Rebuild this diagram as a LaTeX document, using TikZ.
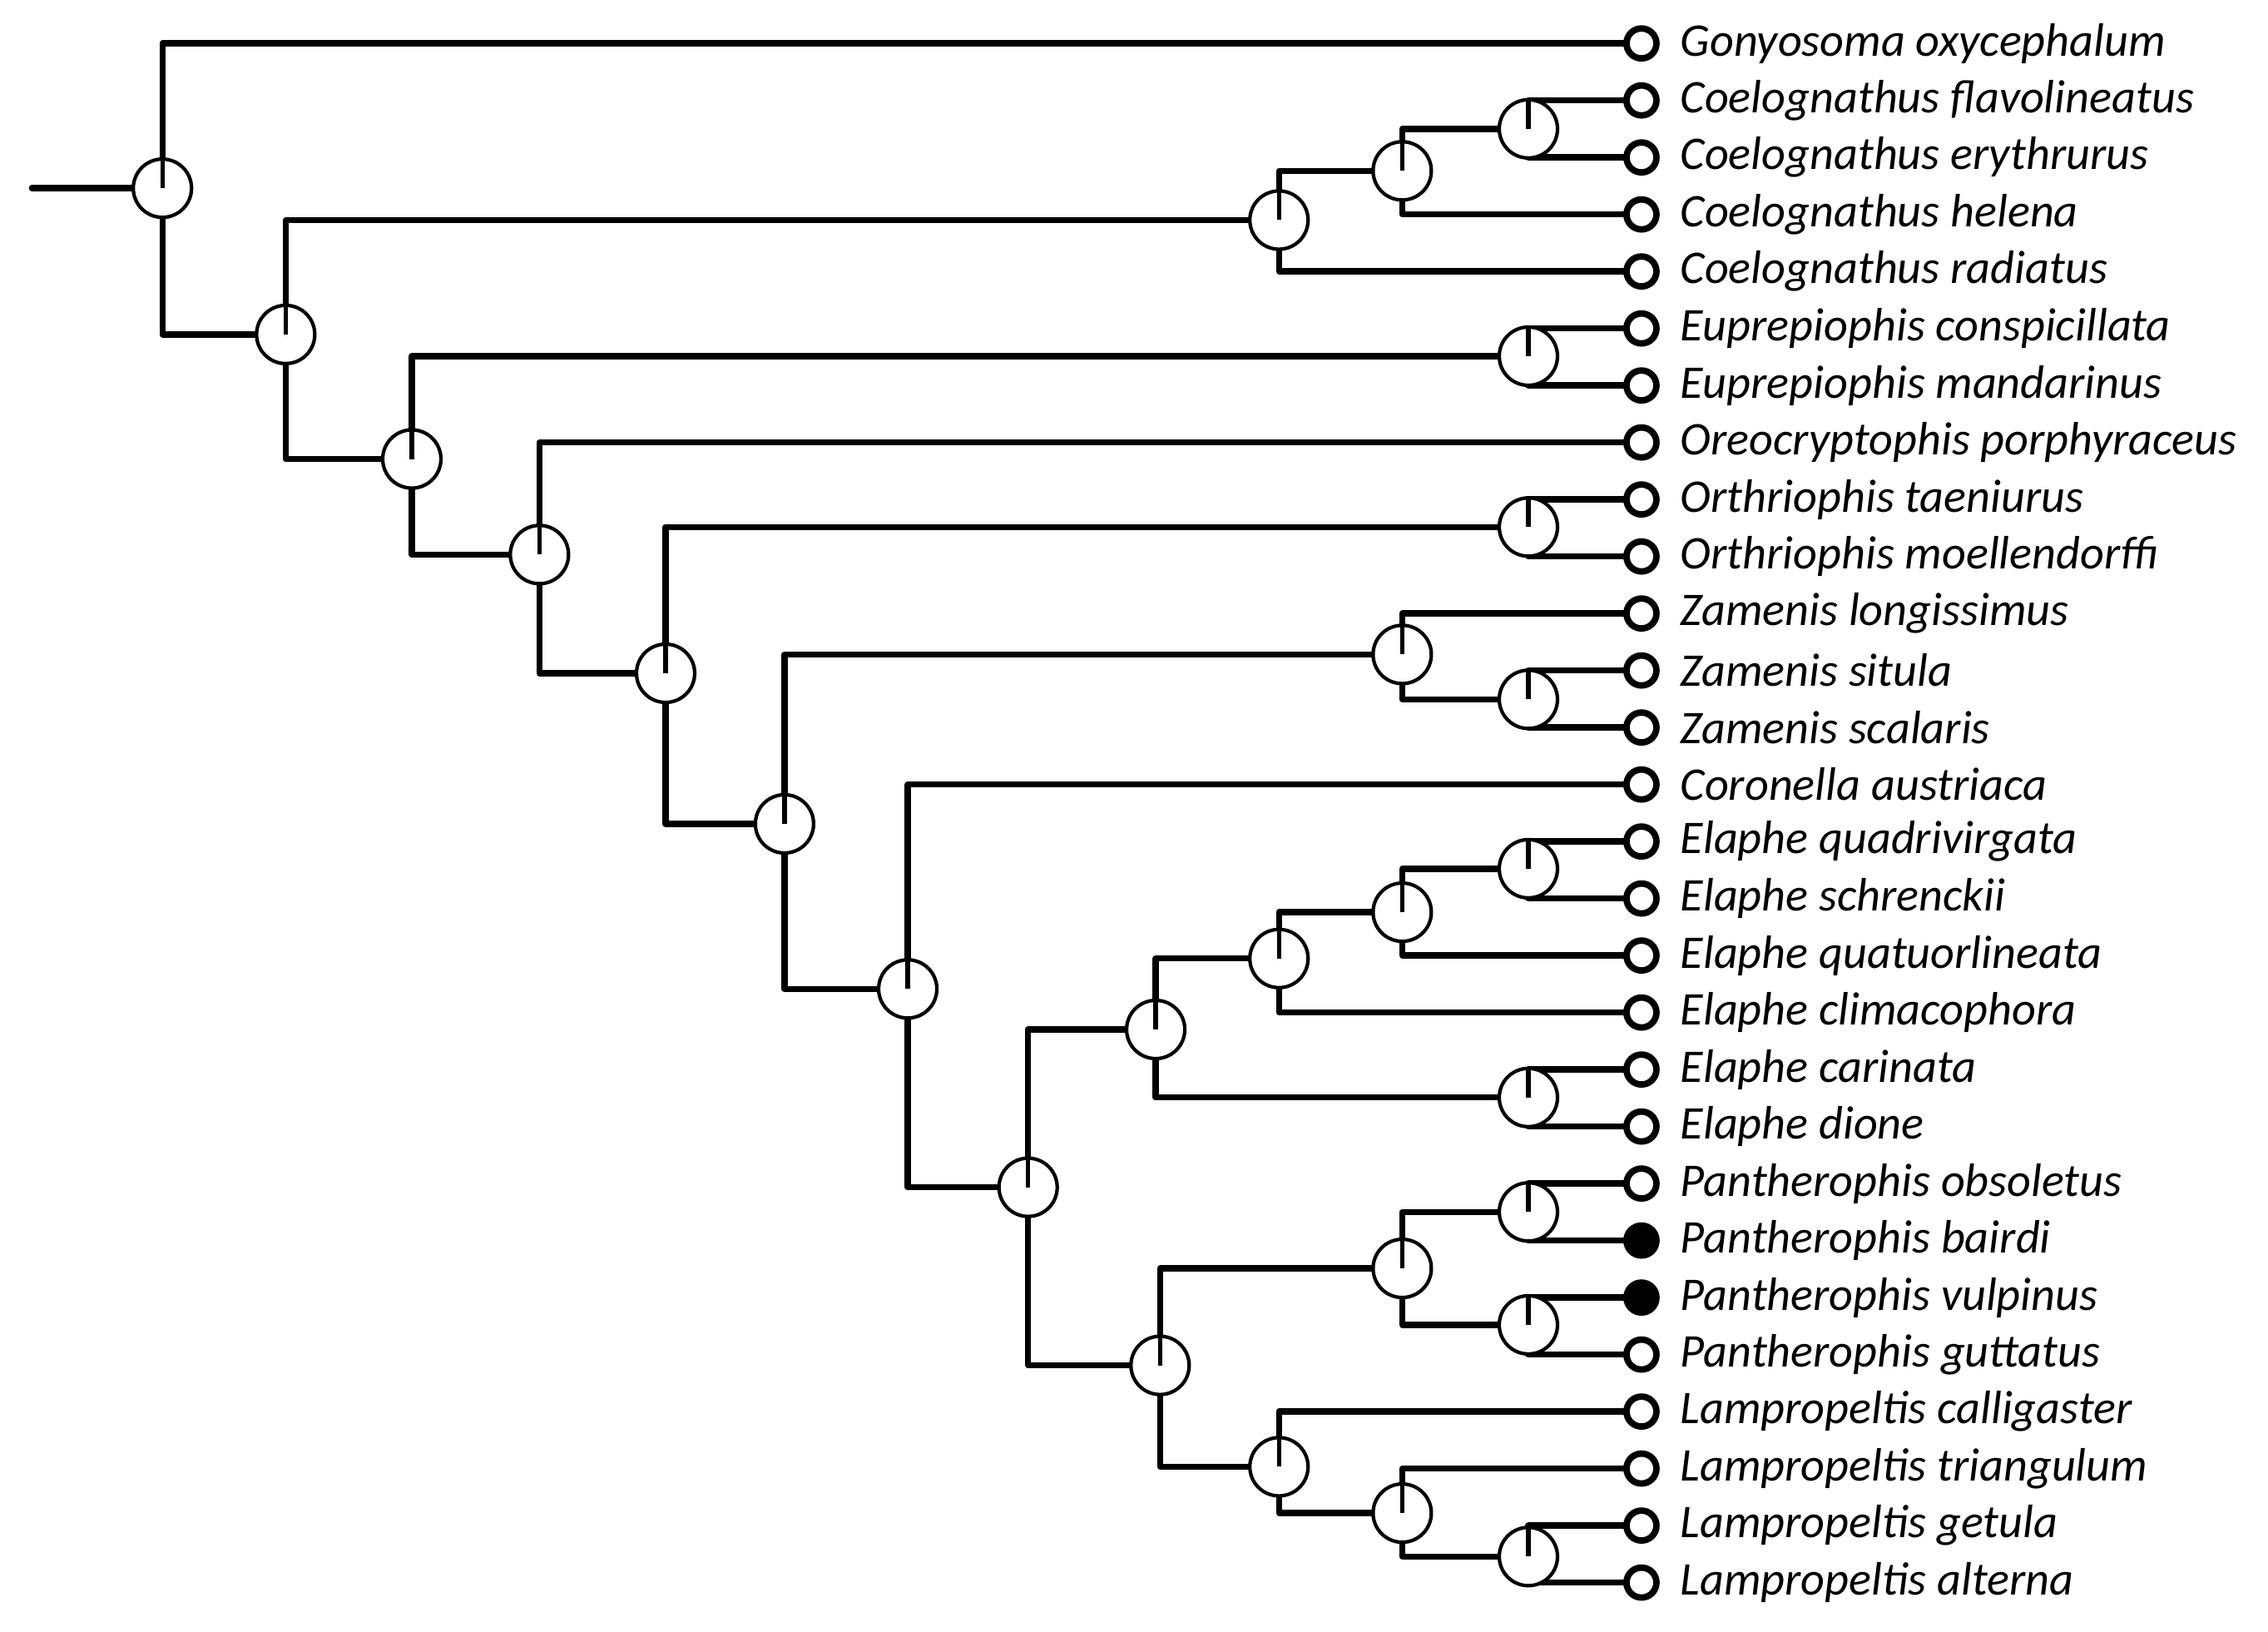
\documentclass[tikz,border=0pt]{standalone}
\usepackage{fontspec}
\setmainfont{Carlito}
\begin{document}
\begin{tikzpicture}[x=0.017474cm,y=-0.017474cm,
 br/.style={line width=2.1pt,line cap=round,line join=round},
 inode/.style={circle,draw,fill=white,line width=1.2pt,minimum size=0.7cm,inner sep=0pt},
 tip/.style={circle,draw,fill=white,line width=2.2pt,minimum size=0.36cm,inner sep=0pt},
 ftip/.style={tip,fill=black},
 lab/.style={anchor=west,font=\fontsize{16}{18}\selectfont\itshape,inner sep=0pt}]
\useasboundingbox (0,0) rectangle (1560,1122);
\begin{scope}[x=0.01742cm,y=-0.01740cm]
\foreach \n/\x/\y in {r/112/130,a/197/231,co/882/152,co1/967/118,co2/1054/89,b/284/317,eu/1054/246,c/372/383,d/459/465,or/1054/364,e/541/569,za/967/452,za2/1054/483,f/626/683,g/709/820,el/797/711,el1/882/662,el2/967/630,el3/1054/600,el4/1054/758,h/800/943,pa/967/876,pa1/1054/837,pa2/1054/915,la/882/1013,la1/967/1045,la2/1054/1075}
  \coordinate (\n) at (\x,\y);
\foreach \i in {0,...,27} \coordinate (t\i) at (1132,{30+39.37*\i});
\coordinate (s) at (22,130);
\end{scope}
\draw[br] (s) -- (r);
\foreach \p/\c in {r/t0,r/a,a/co,a/b,co/co1,co/t4,co1/co2,co1/t3,co2/t1,co2/t2,b/eu,b/c,eu/t5,eu/t6,c/t7,c/d,d/or,d/e,or/t8,or/t9,e/za,e/f,za/t10,za/za2,za2/t11,za2/t12,f/t13,f/g,g/el,g/h,el/el1,el/el4,el1/el2,el1/t17,el2/el3,el2/t16,el3/t14,el3/t15,el4/t18,el4/t19,h/pa,h/la,pa/pa1,pa/pa2,pa1/t20,pa1/t21,pa2/t22,pa2/t23,la/t24,la/la1,la1/t25,la1/la2,la2/t26,la2/t27}
  \draw[br] (\p) |- (\c);
\foreach \n in {r,a,co,co1,co2,b,eu,c,d,or,e,za,za2,f,g,el,el1,el2,el3,el4,h,pa,pa1,pa2,la,la1,la2}{
  \node[inode] (n\n) at (\n) {};
  \draw[line width=1.5pt] (n\n.center) -- (n\n.north);
}
\foreach \i in {0,...,27}{\ifnum\i=21\relax\node[ftip] (nt\i) at (t\i) {};\else\ifnum\i=22\relax\node[ftip] (nt\i) at (t\i) {};\else\node[tip] (nt\i) at (t\i) {};\fi\fi}
\foreach \i/\s in {0/Gonyosoma oxycephalum,1/Coelognathus flavolineatus,2/Coelognathus erythrurus,3/Coelognathus helena,4/Coelognathus radiatus,5/Euprepiophis conspicillata,6/Euprepiophis mandarinus,7/Oreocryptophis porphyraceus,8/Orthriophis taeniurus,9/Orthriophis moellendorffi,10/Zamenis longissimus,11/Zamenis situla,12/Zamenis scalaris,13/Coronella austriaca,14/Elaphe quadrivirgata,15/Elaphe schrenckii,16/Elaphe quatuorlineata,17/Elaphe climacophora,18/Elaphe carinata,19/Elaphe dione,20/Pantherophis obsoletus,21/Pantherophis bairdi,22/Pantherophis vulpinus,23/Pantherophis guttatus,24/Lampropeltis calligaster,25/Lampropeltis triangulum,26/Lampropeltis getula,27/Lampropeltis alterna}
  \node[lab] (l\i) at ([xshift=0.46cm]t\i) {\s};
\end{tikzpicture}
\end{document}
